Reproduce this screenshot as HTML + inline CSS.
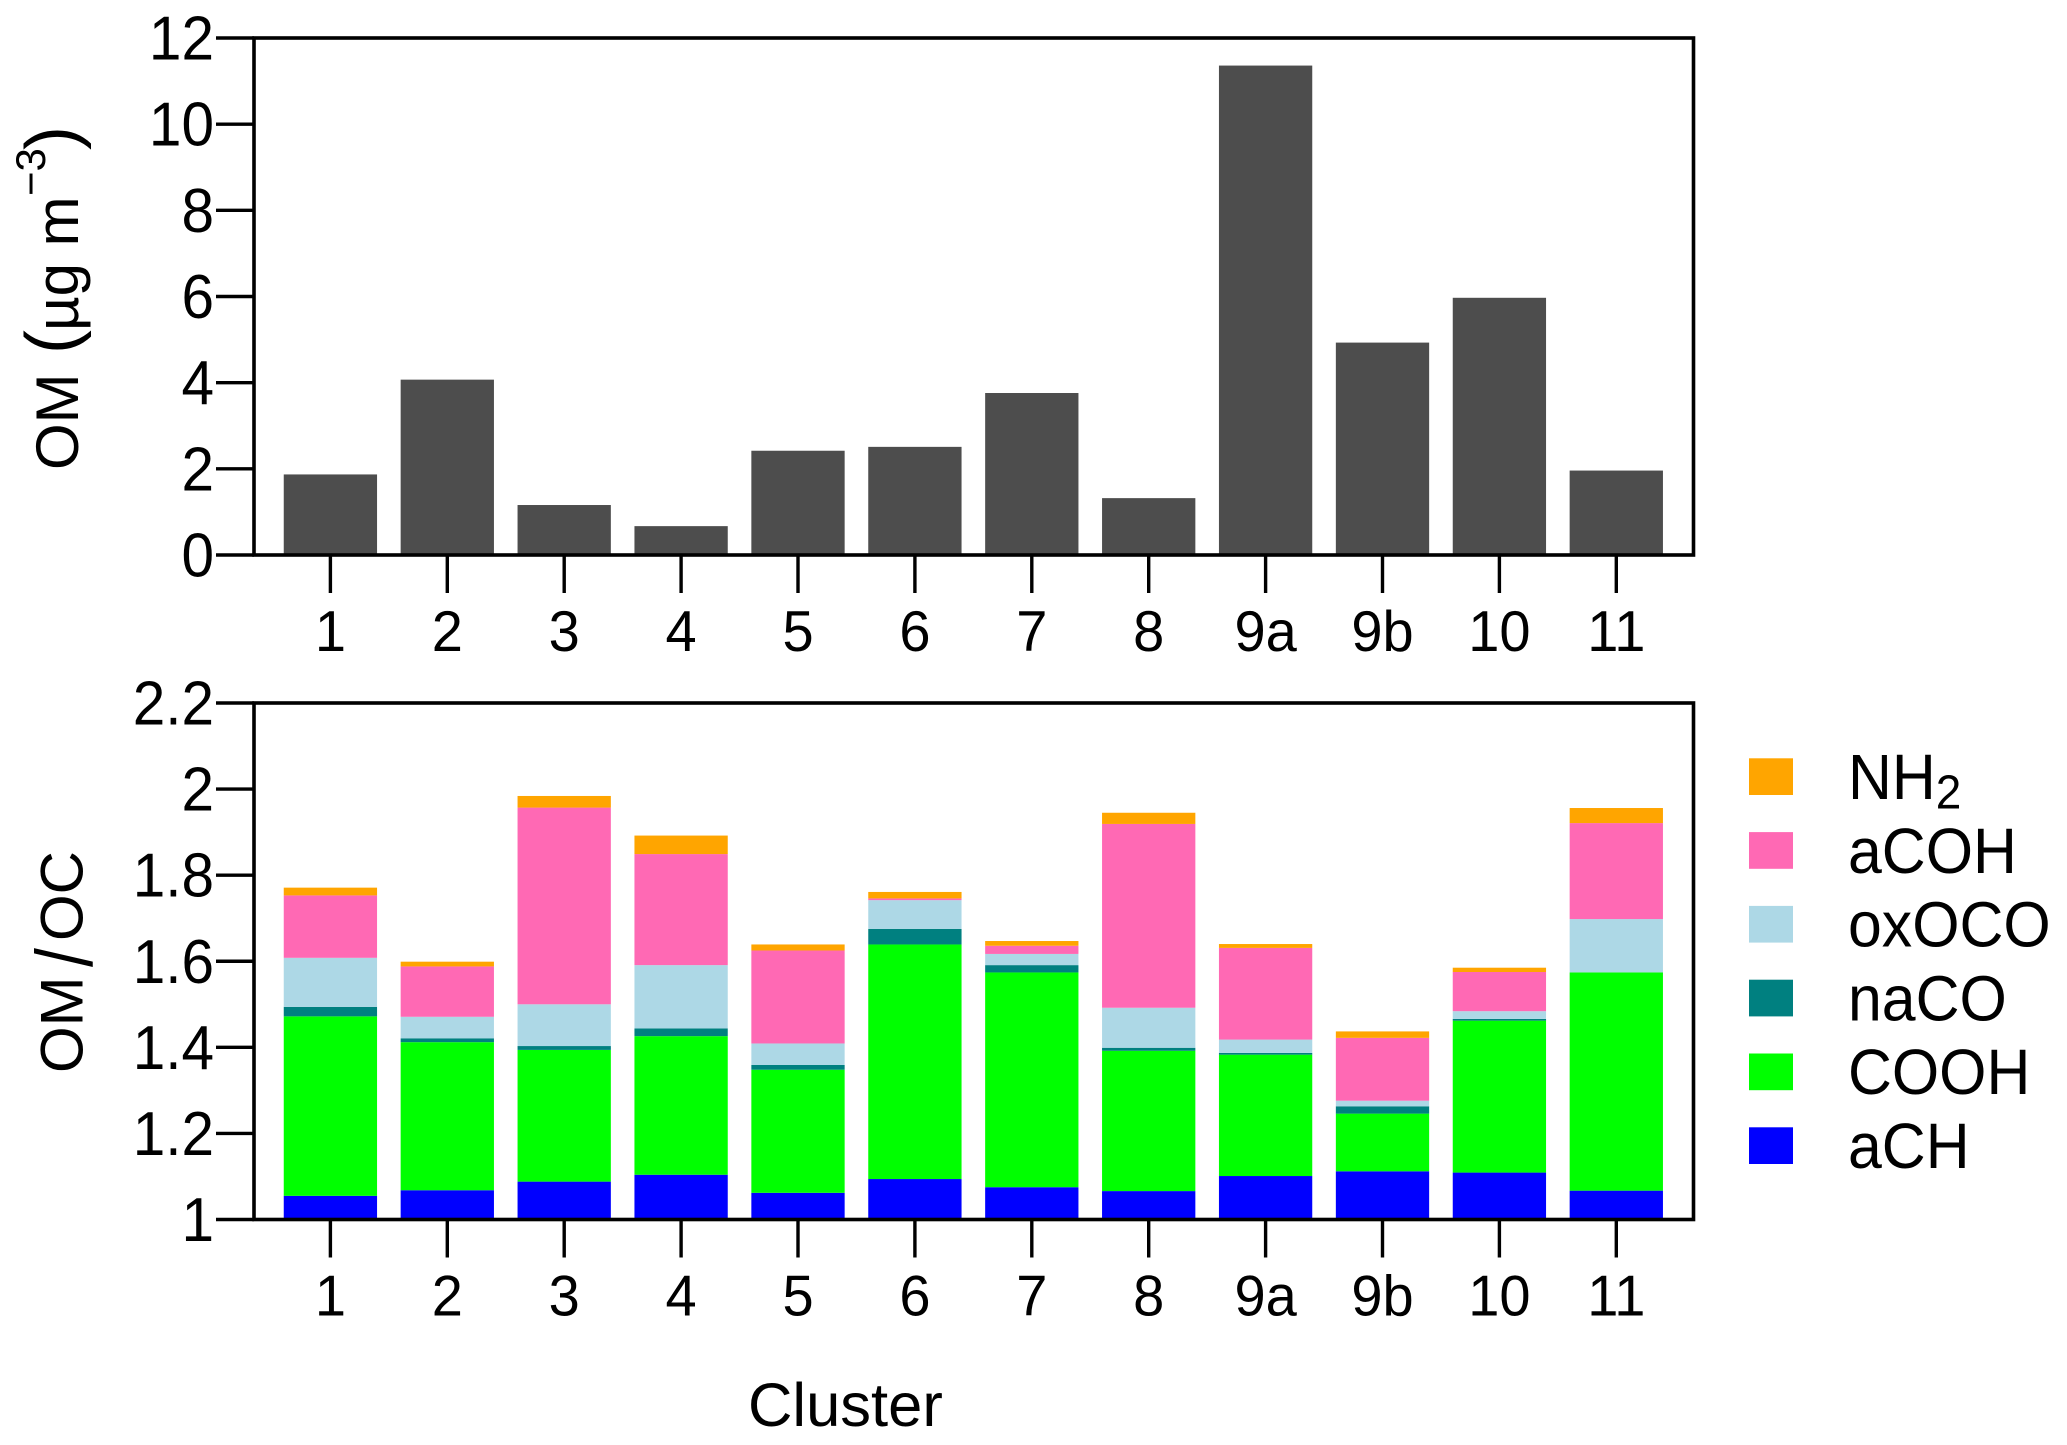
<!DOCTYPE html>
<html>
<head>
<meta charset="utf-8">
<title>OM and OM/OC by cluster</title>
<style>
html,body{margin:0;padding:0;background:#fff;}
svg{display:block;}
text{font-family:"Liberation Sans",Arial,sans-serif;fill:#000;}
</style>
</head>
<body>
<svg id="figure" xmlns="http://www.w3.org/2000/svg" width="2067" height="1445" viewBox="0 0 2067 1445">
  <rect x="0" y="0" width="2067" height="1445" fill="#fff"/>
  <g id="top-chart"></g>
  <g id="bottom-chart"></g>
  <g id="legend"></g>
  <g>
    <text transform="translate(78,470) rotate(-90)" font-size="60" x="0" y="0">OM</text>
    <text transform="translate(78,354) rotate(-90)" font-size="72" x="0" y="-2">(</text>
    <text transform="translate(78,331) rotate(-90)" font-size="60" x="0" y="0">µg m</text>
    <text transform="translate(45,196) rotate(-90)" font-size="42" x="0" y="0">−3</text>
    <text transform="translate(78,150) rotate(-90)" font-size="72" x="0" y="-2">)</text>
  </g>
  <g>
    <text transform="translate(82.5,1073) rotate(-90)" font-size="60">OM</text>
    <text transform="translate(92,967) rotate(-90) scale(0.85,1)" font-size="80">/</text>
    <text transform="translate(82.5,941) rotate(-90)" font-size="60">OC</text>
  </g>
  <text x="748" y="1426" font-size="61.5">Cluster</text>
</svg>
<script>
const categories = ["1","2","3","4","5","6","7","8","9a","9b","10","11"];
const omValues = [1.87,4.07,1.16,0.67,2.42,2.51,3.76,1.32,11.36,4.93,5.97,1.96];
const omTicks = [0,2,4,6,8,10,12];
const ratioTicks = [1,1.2,1.4,1.6,1.8,2,2.2];
const ratioTickLabels = ["1","1.2","1.4","1.6","1.8","2","2.2"];
const aCH = [0.055,0.068,0.088,0.104,0.062,0.094,0.075,0.066,0.101,0.112,0.109,0.067];
const COOH = [0.417,0.344,0.306,0.322,0.286,0.545,0.499,0.326,0.282,0.134,0.353,0.507];
const naCO = [0.022,0.009,0.009,0.018,0.011,0.036,0.017,0.007,0.004,0.017,0.004,0];
const oxOCO = [0.114,0.050,0.097,0.147,0.050,0.067,0.026,0.093,0.031,0.013,0.018,0.124];
const aCOH = [0.145,0.117,0.457,0.258,0.216,0.004,0.019,0.427,0.213,0.146,0.091,0.223];
const NH2 = [0.018,0.011,0.027,0.043,0.014,0.015,0.011,0.026,0.009,0.015,0.010,0.035];
const seriesNames = ["aCH","COOH","naCO","oxOCO","aCOH","NH2"];
const seriesValues = [aCH,COOH,naCO,oxOCO,aCOH,NH2];
const seriesColors = ["#0000ff","#00ff00","#008080","#add8e6","#ff69b4","#ffa500"];

const NS = "http://www.w3.org/2000/svg";
const LEFT = 254, RIGHT = 1693.5, BAR_W = 93.3, X0 = 330.4, STEP = 116.9;
const TOP1 = 38, BOT1 = 555, TOP2 = 703, BOT2 = 1219.5;
const xPos = i => X0 + STEP * i;
const yOM = v => BOT1 - (v / 12) * (BOT1 - TOP1);
const yRatio = v => BOT2 - ((v - 1) / 1.2) * (BOT2 - TOP2);

function mk(parent, tag, attrs, txt) {
  const el = document.createElementNS(NS, tag);
  for (const k in attrs) el.setAttribute(k, attrs[k]);
  if (txt !== undefined) el.textContent = txt;
  parent.appendChild(el);
  return el;
}

function drawAxes(g, top, bot, ticks, labels, yFn, prefix) {
  const frame = mk(g, "rect", {x: LEFT, y: top, width: RIGHT - LEFT, height: bot - top, fill: "none", stroke: "#000", "stroke-width": 3.6});
  
  
  ticks.forEach((t, i) => {
    const y = yFn(t);
    const tick = mk(g, "line", {x1: 216, x2: LEFT, y1: y, y2: y, stroke: "#000", "stroke-width": 3.4});
    
    
    const lab = mk(g, "text", {transform: "translate(214," + (y + 21.5) + ") scale(1,1.06)", "text-anchor": "end", "font-size": 58.5}, labels[i]);
    
    
  });
  categories.forEach((c, i) => {
    const x = xPos(i);
    const tick = mk(g, "line", {x1: x, x2: x, y1: bot, y2: bot + 38, stroke: "#000", "stroke-width": 3.4});
    
    
    const lab = mk(g, "text", {transform: "translate(" + x + "," + (bot + 96) + ") scale(1,1.03)", "text-anchor": "middle", "font-size": 56}, c);
    
    
  });
}

const topG = document.getElementById("top-chart");
categories.forEach((c, i) => {
  const y = yOM(omValues[i]);
  const bar = mk(topG, "rect", {x: xPos(i) - BAR_W / 2, y: y, width: BAR_W, height: yOM(0) - y, fill: "#4d4d4d"});
  
  
});
drawAxes(topG, TOP1, BOT1, omTicks, omTicks.map(String), yOM, "om");

const botG = document.getElementById("bottom-chart");
categories.forEach((c, i) => {
  let base = 1;
  seriesValues.forEach((vals, s) => {
    const top = base + vals[i];
    const seg = mk(botG, "rect", {x: xPos(i) - BAR_W / 2, y: yRatio(top), width: BAR_W, height: yRatio(base) - yRatio(top), fill: seriesColors[s]});
    
    
    base = top;
  });
});
drawAxes(botG, TOP2, BOT2, ratioTicks, ratioTickLabels, yRatio, "om-oc");

const legendG = document.getElementById("legend");
for (let s = seriesNames.length - 1, row = 0; s >= 0; s--, row++) {
  const top = 758.3 + row * 73.8;
  const sw = mk(legendG, "rect", {x: 1749, y: top, width: 44, height: 36.7, fill: seriesColors[s]});
  
  
  const label = mk(legendG, "text", {transform: "translate(1848," + (top + 40.7) + ") scale(1,1.05)", "font-size": 60.8});
  
  
  if (seriesNames[s] === "NH2") {
    mk(label, "tspan", {}, "NH");
    mk(label, "tspan", {"font-size": 46, dy: 9}, "2");
  } else {
    label.textContent = seriesNames[s];
  }
}
</script>
</body>
</html>
